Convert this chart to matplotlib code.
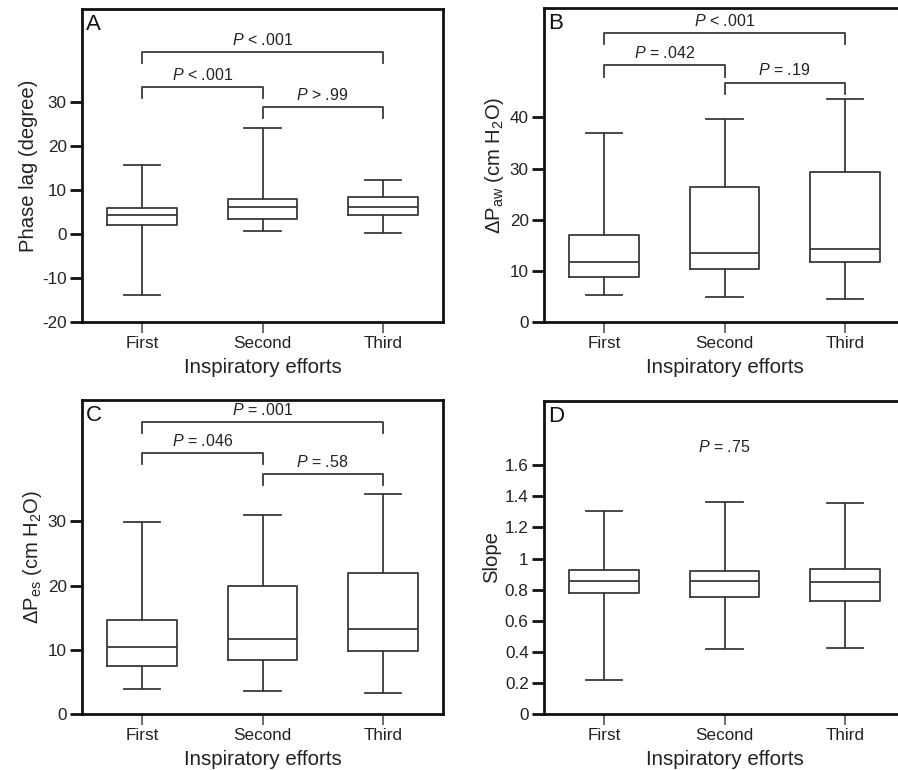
import matplotlib
matplotlib.use("Agg")
import matplotlib.pyplot as plt
from matplotlib.ticker import FuncFormatter

plt.rcParams['font.family'] = ['Liberation Sans', 'DejaVu Sans']
plt.rcParams['mathtext.fontset'] = 'custom'
plt.rcParams['mathtext.rm'] = 'Liberation Sans'
plt.rcParams['mathtext.it'] = 'Liberation Sans:italic'
plt.rcParams['axes.unicode_minus'] = False

categories = ["First", "Second", "Third"]

# Panel A: phase lag (degree)
a_lo = [-13.9, 0.7, 0.2]
a_q1 = [2.0, 3.5, 4.25]
a_med = [4.3, 6.2, 6.1]
a_q3 = [6.0, 8.05, 8.4]
a_hi = [15.6, 24.0, 12.15]

# Panel B: delta Paw
b_lo = [5.3, 4.8, 4.5]
b_q1 = [8.74, 10.3, 11.7]
b_med = [11.8, 13.4, 14.3]
b_q3 = [17.1, 26.4, 29.3]
b_hi = [37.0, 39.7, 43.6]

# Panel C: delta Pes
c_lo = [3.84, 3.63, 3.27]
c_q1 = [7.4, 8.46, 9.86]
c_med = [10.4, 11.7, 13.3]
c_q3 = [14.6, 20.0, 21.9]
c_hi = [29.9, 31.0, 34.3]

# Panel D: slope
d_lo = [0.22, 0.417, 0.426]
d_q1 = [0.779, 0.755, 0.727]
d_med = [0.858, 0.853, 0.847]
d_q3 = [0.924, 0.920, 0.930]
d_hi = [1.307, 1.363, 1.358]

# P-value annotations: (i, j, text)
a_pairs = [(0, 2, "< .001"), (0, 1, "< .001"), (1, 2, "> .99")]
a_bracket_y = [41.4, 33.3, 28.8]
b_pairs = [(0, 2, "< .001"), (0, 1, "= .042"), (1, 2, "= .19")]
b_bracket_y = [56.5, 50.2, 46.8]
c_pairs = [(0, 2, "= .001"), (0, 1, "= .046"), (1, 2, "= .58")]
c_bracket_y = [45.4, 40.6, 37.4]
d_text = "= .75"
d_text_y = 1.72

W, H = 898, 770
fig = plt.figure(figsize=(W / 100, H / 100), dpi=100)


def axes_px(left, right, top, bottom):
    return fig.add_axes([left / W, (H - bottom) / H, (right - left) / W, (bottom - top) / H])


line_c = '#3a3a3a'


def draw_panel(ax, lo, q1, med, q3, hi, ylim, yticks, ylabel, letter, fmt=None):
    stats = []
    for k in range(len(categories)):
        stats.append(dict(whislo=lo[k], q1=q1[k], med=med[k], q3=q3[k], whishi=hi[k], fliers=[]))
    lp = dict(color=line_c, linewidth=1.3)
    ax.bxp(stats, positions=range(len(categories)), widths=0.58, capwidths=0.3,
           showfliers=False, boxprops=lp, whiskerprops=lp, capprops=lp,
           medianprops=lp, manage_ticks=False)
    ax.set_xlim(-0.5, 2.5)
    ax.set_ylim(*ylim)
    ax.set_yticks(yticks)
    if fmt is not None:
        ax.yaxis.set_major_formatter(FuncFormatter(fmt))
    ax.set_xticks(range(len(categories)))
    ax.set_xticklabels(categories, fontsize=12.3, color='#222222')
    for s in ax.spines.values():
        s.set_linewidth(2.0)
        s.set_color('#111111')
    ax.tick_params(axis='y', direction='out', length=9, width=2, labelsize=12.3,
                   colors='#111111', labelcolor='#222222', pad=2)
    ax.tick_params(axis='x', direction='out', length=8, width=1.2, colors='#555555',
                   labelcolor='#222222', pad=2)
    ax.set_xlabel("Inspiratory efforts", fontsize=14.8, color='#222222', labelpad=5)
    ax.set_ylabel(ylabel, fontsize=14.6, color='#222222', labelpad=3)
    ax.text(0.012, 0.985, letter, transform=ax.transAxes, fontsize=16,
            ha='left', va='top', color='#111111')


def draw_brackets(ax, pairs, ys, leg):
    for (i, j, txt), y in zip(pairs, ys):
        ax.plot([i, i, j, j], [y - leg, y, y, y - leg], color=line_c, linewidth=1.3)
        ax.annotate(r"$\mathit{P}$ " + txt, xy=((i + j) / 2, y), xytext=(0, 3),
                    textcoords='offset points', ha='center', va='bottom',
                    fontsize=11.5, color='#222222')


axA = axes_px(82, 443, 9, 322)
draw_panel(axA, a_lo, a_q1, a_med, a_q3, a_hi, (-20, 51.1), [-20, -10, 0, 10, 20, 30],
           "Phase lag (degree)", "A")
draw_brackets(axA, a_pairs, a_bracket_y, 2.5)

axB = axes_px(544, 905, 8, 322)
draw_panel(axB, b_lo, b_q1, b_med, b_q3, b_hi, (0, 61.4), [0, 10, 20, 30, 40],
           r"$\Delta$P$_\mathregular{aw}$ (cm H$_\mathregular{2}$O)", "B")
draw_brackets(axB, b_pairs, b_bracket_y, 2.2)

axC = axes_px(82, 443, 400, 714)
draw_panel(axC, c_lo, c_q1, c_med, c_q3, c_hi, (0, 48.9), [0, 10, 20, 30],
           r"$\Delta$P$_\mathregular{es}$ (cm H$_\mathregular{2}$O)", "C")
draw_brackets(axC, c_pairs, c_bracket_y, 1.7)

axD = axes_px(544, 905, 401, 714)
draw_panel(axD, d_lo, d_q1, d_med, d_q3, d_hi, (0, 2.013),
           [0, 0.2, 0.4, 0.6, 0.8, 1.0, 1.2, 1.4, 1.6], "Slope", "D",
           fmt=lambda v, p: f"{v:g}")
axD.text(1, d_text_y, r"$\mathit{P}$ " + d_text, ha='center', va='center',
         fontsize=11.5, color='#222222')

fig.savefig("out.png", dpi=100)
